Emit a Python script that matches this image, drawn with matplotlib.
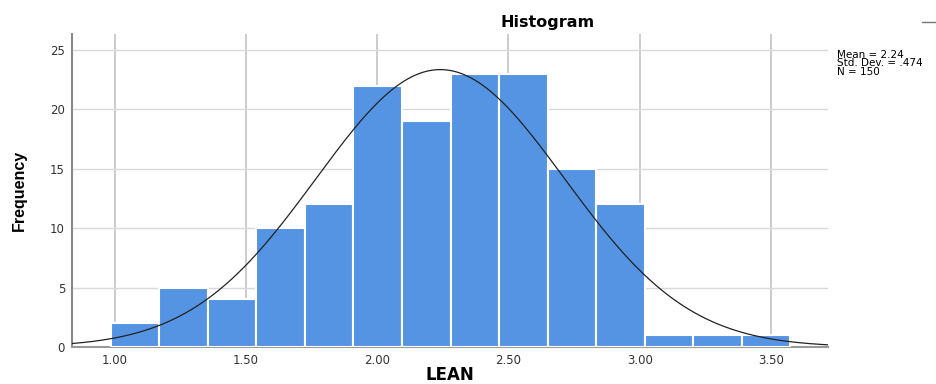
import numpy as np
import matplotlib
matplotlib.use("Agg")
import matplotlib.pyplot as plt
from matplotlib.lines import Line2D

# ── Data ─────────────────────────────────────────────────────────────────────
counts    = [2, 5, 4, 10, 12, 22, 19, 23, 23, 15, 12, 1, 1, 1]
bin_start = 0.984
bin_width = 0.185
mean, sd, n = 2.24, 0.474, 150
xticks     = [1.00, 1.50, 2.00, 2.50, 3.00, 3.50]
yticks     = [0, 5, 10, 15, 20, 25]
stats_lines = ["Mean = 2.24", "Std. Dev. = .474", "N = 150"]

BAR_COLOR = "#5593e3"
plt.rcParams["font.family"] = ["DejaVu Sans"]

fig = plt.figure(figsize=(9.37, 3.84), dpi=100)
ax = fig.add_axes([0.0768, 0.0964, 0.8069, 0.815])

edges = bin_start + bin_width * np.arange(len(counts) + 1)
ax.bar(edges[:-1], counts, width=bin_width, align="edge",
       color=BAR_COLOR, edgecolor="white", linewidth=1.5, zorder=3)

# normal curve scaled to counts
xs = np.linspace(0.836, 3.718, 400)
ys = n * bin_width / (sd * np.sqrt(2 * np.pi)) * np.exp(-0.5 * ((xs - mean) / sd) ** 2)
ax.plot(xs, ys, color="#222222", linewidth=0.9, zorder=4)

ax.set_xlim(0.836, 3.718)
ax.set_ylim(0, 26.35)
ax.set_xticks(xticks)
ax.set_xticklabels([f"{t:.2f}" for t in xticks])
ax.set_yticks(yticks)

ax.grid(axis="x", color="#c8c8c8", linewidth=1.3, zorder=0)
ax.grid(axis="y", color="#d9d9d9", linewidth=1.0, zorder=0)
ax.tick_params(length=0, labelsize=8.5, colors="#333333", pad=5)

for s in ("top", "right"):
    ax.spines[s].set_visible(False)
ax.spines["left"].set_color("#888888")
ax.spines["left"].set_linewidth(1.5)
ax.spines["bottom"].set_color("#999999")
ax.spines["bottom"].set_linewidth(1.5)

fig.text(19 / 937, 1 - 190 / 384, "Frequency", rotation=90, ha="center", va="center",
         fontsize=11.5, fontweight="bold", family=["Liberation Sans", "DejaVu Sans"])
fig.text(450 / 937, 1 - 375 / 384, "LEAN", ha="center", va="center",
         fontsize=12, fontweight="bold")
fig.text(548 / 937, 1 - 22 / 384, "Histogram", ha="center", va="center",
         fontsize=11.5, fontweight="bold")
fig.text(837 / 937, 1 - 50 / 384, "\n".join(stats_lines), ha="left", va="top",
         fontsize=7.5, linespacing=0.8)
fig.add_artist(Line2D([922 / 937, 937 / 937], [1 - 22 / 384, 1 - 22 / 384],
                      transform=fig.transFigure, color="#777777", linewidth=1))

plt.savefig("out.png", dpi=100)
